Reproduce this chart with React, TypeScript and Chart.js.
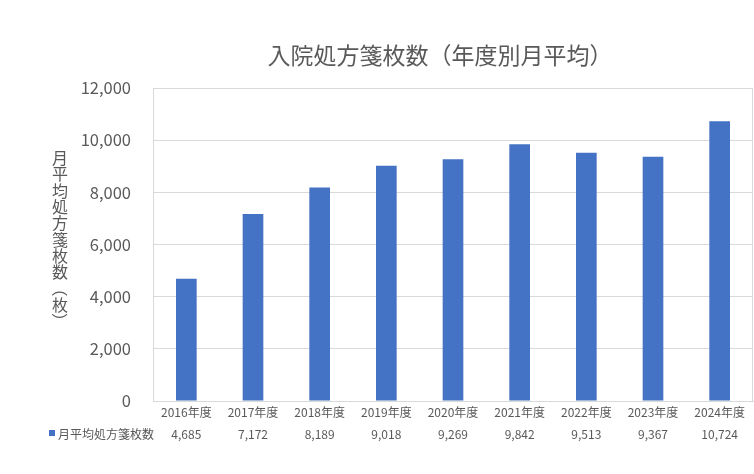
import { useEffect, useRef } from 'react';
import { Chart, ChartConfiguration, Plugin, registerables } from 'chart.js';

Chart.register(...registerables);

// chart data
const categories = ['2016年度', '2017年度', '2018年度', '2019年度', '2020年度', '2021年度', '2022年度', '2023年度', '2024年度'];
const monthlyAverage = [4685, 7172, 8189, 9018, 9269, 9842, 9513, 9367, 10724];
const seriesName = '月平均処方箋枚数';
const chartTitle = '入院処方箋枚数（年度別月平均）';
const yAxisTitle = '月平均処方箋枚数（枚）';

const FONT = "'Noto Sans CJK JP', 'Noto Sans', sans-serif";
const TEXT = '#595959';
const GRID = '#D9D9D9';
const BAR = '#4472C4';

// title, vertical axis title, plot border and the data table row
const decorations: Plugin<'bar'> = {
  id: 'decorations',
  beforeDatasetsDraw(chart) {
    const { ctx, chartArea } = chart;
    ctx.save();
    ctx.strokeStyle = GRID;
    ctx.lineWidth = 1;
    ctx.strokeRect(
      Math.round(chartArea.left) + 0.5,
      Math.round(chartArea.top) + 0.5,
      Math.round(chartArea.right - chartArea.left) - 1,
      Math.round(chartArea.bottom - chartArea.top)
    );
    ctx.restore();
  },
  afterDraw(chart) {
    const { ctx } = chart;
    const x = chart.scales.x;
    ctx.save();
    ctx.fillStyle = TEXT;
    ctx.textAlign = 'center';
    ctx.textBaseline = 'middle';

    // title
    ctx.font = `23px ${FONT}`;
    ctx.fillText(chartTitle, 440, 55);

    // vertical y axis title, one character under the other
    ctx.font = `16px ${FONT}`;
    let cy = 158;
    for (const ch of Array.from(yAxisTitle)) {
      ctx.save();
      ctx.translate(60, cy);
      if (ch === '（' || ch === '）') ctx.rotate(Math.PI / 2);
      ctx.fillText(ch, 0, 0);
      ctx.restore();
      cy += 16.3;
    }

    // data table row
    const rowY = 434;
    ctx.fillStyle = BAR;
    ctx.fillRect(49, rowY - 4, 6, 6);
    ctx.fillStyle = TEXT;
    ctx.font = `12px ${FONT}`;
    ctx.textAlign = 'left';
    ctx.fillText(seriesName, 58, rowY);
    ctx.textAlign = 'center';
    monthlyAverage.forEach((v, i) => {
      ctx.fillText(v.toLocaleString('en-US'), x.getPixelForValue(i), rowY);
    });
    ctx.restore();
  },
};

export default function App() {
  const canvasRef = useRef<HTMLCanvasElement>(null);
  const chartRef = useRef<Chart<'bar'> | null>(null);

  useEffect(() => {
    if (!canvasRef.current) return;
    if (chartRef.current) chartRef.current.destroy();

    const config: ChartConfiguration<'bar'> = {
      type: 'bar',
      data: {
        labels: categories,
        datasets: [{
          label: seriesName,
          data: monthlyAverage,
          backgroundColor: BAR,
          borderWidth: 0,
          categoryPercentage: 1,
          barPercentage: 0.31,
        }],
      },
      options: {
        responsive: false,
        animation: false,
        layout: { padding: { top: 88, right: 1, left: 0, bottom: 0 } },
        plugins: {
          legend: { display: false },
          title: { display: false },
          tooltip: { enabled: false },
        },
        scales: {
          x: {
            grid: { display: false, drawTicks: false },
            border: { display: true, color: GRID },
            ticks: {
              color: TEXT,
              font: { family: FONT, size: 12 },
              padding: 4,
              maxRotation: 0,
              autoSkip: false,
            },
            afterFit: (s) => { s.height = 73; },
          },
          y: {
            min: 0,
            max: 12000,
            grid: { color: GRID, drawTicks: false },
            border: { display: false },
            ticks: {
              stepSize: 2000,
              color: TEXT,
              padding: 22,
              font: { family: FONT, size: 16.5 },
              callback: (v) => Number(v).toLocaleString('en-US'),
            },
            afterFit: (s) => { s.width = 153; },
          },
        },
      },
      plugins: [decorations],
    };

    chartRef.current = new Chart(canvasRef.current, config);

    return () => {
      if (chartRef.current) {
        chartRef.current.destroy();
        chartRef.current = null;
      }
    };
  }, []);

  return (
    <div style={{ position: 'absolute', left: 0, top: 0, width: 754, height: 474, background: '#fff' }}>
      <canvas ref={canvasRef} width={754} height={474}></canvas>
    </div>
  );
}
